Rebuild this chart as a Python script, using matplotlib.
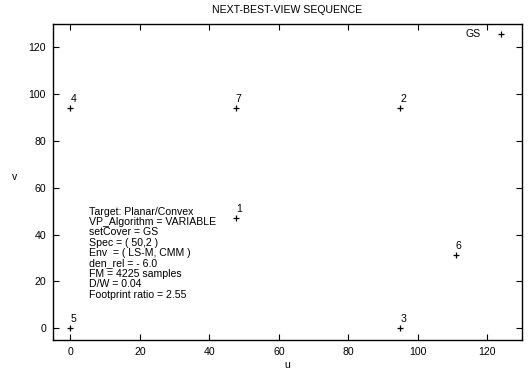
import matplotlib
matplotlib.use("Agg")
import matplotlib.pyplot as plt

plt.rcParams['font.family'] = ['Liberation Sans', 'DejaVu Sans']

labels = ["1", "2", "3", "4", "5", "6", "7"]
u_vals = [47.6, 95.0, 95.0, 0.0, 0.0, 111.0, 47.6]
v_vals = [47.0, 94.0, 0.0, 94.0, 0.0, 31.2, 94.0]
gs_u, gs_v = 124.0, 125.6

info_lines = [
    "Target: Planar/Convex",
    "VP_Algorithm = VARIABLE",
    "setCover = GS",
    "Spec = ( 50,2 )",
    "Env  = ( LS-M, CMM )",
    "den_rel = - 6.0",
    "FM = 4225 samples",
    "D/W = 0.04",
    "Footprint ratio = 2.55",
]

FS = 7.6

fig = plt.figure(figsize=(5.30, 3.74), dpi=100)
ax = fig.add_axes([53/530, 1-340/374, (522-53)/530, (340-24)/374])

ax.plot(u_vals, v_vals, linestyle='none', marker='+', color='black',
        markersize=5, markeredgewidth=0.9)
for lab, x, y in zip(labels, u_vals, v_vals):
    ax.annotate(lab, (x, y), xytext=(0, 3), textcoords='offset points',
                fontsize=FS, ha='left', va='bottom')

ax.plot([gs_u], [gs_v], linestyle='none', marker='+', color='black',
        markersize=5, markeredgewidth=0.9)
ax.annotate("GS", (gs_u, gs_v), xytext=(-15, 0), textcoords='offset points',
            fontsize=FS, ha='right', va='center')

ax.text(5.45, 52.0, "\n".join(info_lines), fontsize=FS, ha='left', va='top',
        linespacing=1.05)

ax.set_xlim(-5, 130)
ax.set_ylim(-5, 130)
ax.set_xticks(range(0, 121, 20))
ax.set_yticks(range(0, 121, 20))
ax.tick_params(direction='in', top=True, right=True, labelsize=FS, length=4,
               width=0.8)
ax.tick_params(axis='y', pad=5)
ax.tick_params(axis='x', pad=5)
for s in ax.spines.values():
    s.set_linewidth(1.0)

ax.set_xlabel("u", fontsize=FS, labelpad=2)
ax.set_ylabel("v", fontsize=FS, labelpad=10, rotation=0)
ax.set_title("NEXT-BEST-VIEW SEQUENCE", fontsize=FS, pad=8)

fig.savefig("out.png", dpi=100)
